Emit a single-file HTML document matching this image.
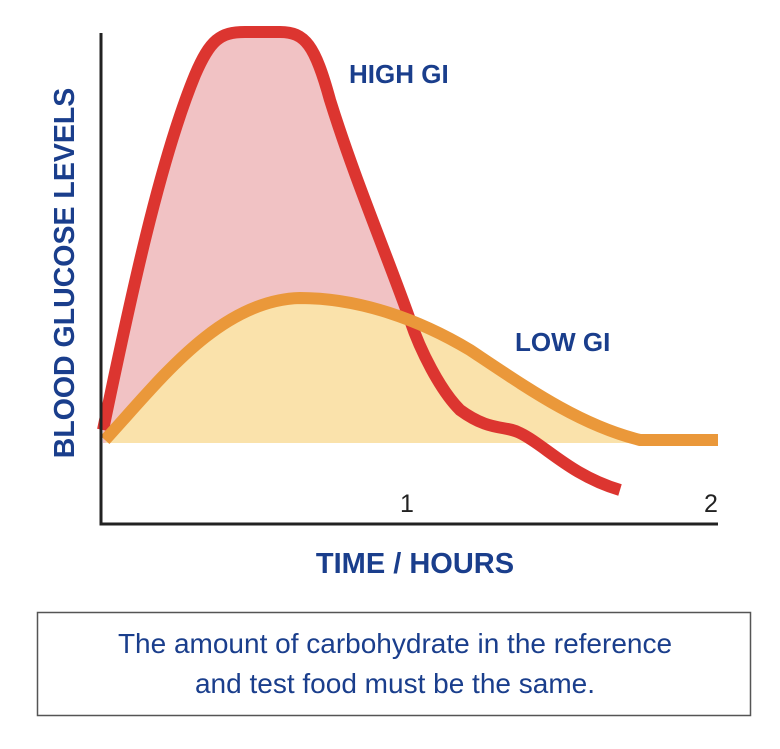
<!DOCTYPE html>
<html><head><style>
body{margin:0;background:#fff;width:780px;height:744px;overflow:hidden;font-family:"Liberation Sans",sans-serif}
</style></head><body>
<svg width="780" height="744" viewBox="0 0 780 744" xmlns="http://www.w3.org/2000/svg">
<path d="M103,443 L103,430 C130,300 160,160 195,75 C210,40 220,32 245,32 L280,32 C305,32 315,45 330,100 C355,180 385,250 410,320 C420,350 440,390 460,410 C490,432 505,425 520,433 L520,443 Z" fill="#f1c2c4"/>
<path d="M105,443 C160,380 220,300 300,298 C360,298 420,320 470,350 C530,390 580,425 640,440 L650,443 Z" fill="#fae2ab"/>
<path d="M103,430 C130,300 160,160 195,75 C210,40 220,32 245,32 L280,32 C305,32 315,45 330,100 C355,180 385,250 410,320 C420,350 440,390 460,410 C490,432 505,425 520,433 C545,445 570,475 620,490" fill="none" stroke="#dc3530" stroke-width="12" stroke-linecap="butt"/>
<path d="M105,440 C160,380 220,300 300,298 C360,298 420,320 470,350 C530,390 580,425 640,440 L718,440" fill="none" stroke="#ea983a" stroke-width="12"/>
<path d="M101,33 L101,524 L718,524" fill="none" stroke="#222" stroke-width="3"/>
<text x="349" y="83" font-size="26" font-weight="bold" fill="#1a3e8c">HIGH GI</text>
<text x="515" y="351" font-size="26" font-weight="bold" fill="#1a3e8c">LOW GI</text>
<text x="400" y="512" font-size="25" fill="#222">1</text>
<text x="704" y="512" font-size="25" fill="#222">2</text>
<text x="415" y="573" font-size="29" font-weight="bold" fill="#1a3e8c" text-anchor="middle">TIME / HOURS</text>
<text transform="translate(74,273) rotate(-90)" font-size="28.5" font-weight="bold" fill="#1a3e8c" text-anchor="middle">BLOOD GLUCOSE LEVELS</text>
<rect x="37.5" y="612.5" width="713" height="103" fill="#fff" stroke="#555" stroke-width="1.5"/>
<text x="395" y="653" font-size="28" fill="#1a3e8c" text-anchor="middle">The amount of carbohydrate in the reference</text>
<text x="395" y="693" font-size="28" fill="#1a3e8c" text-anchor="middle">and test food must be the same.</text>
</svg>
</body></html>
